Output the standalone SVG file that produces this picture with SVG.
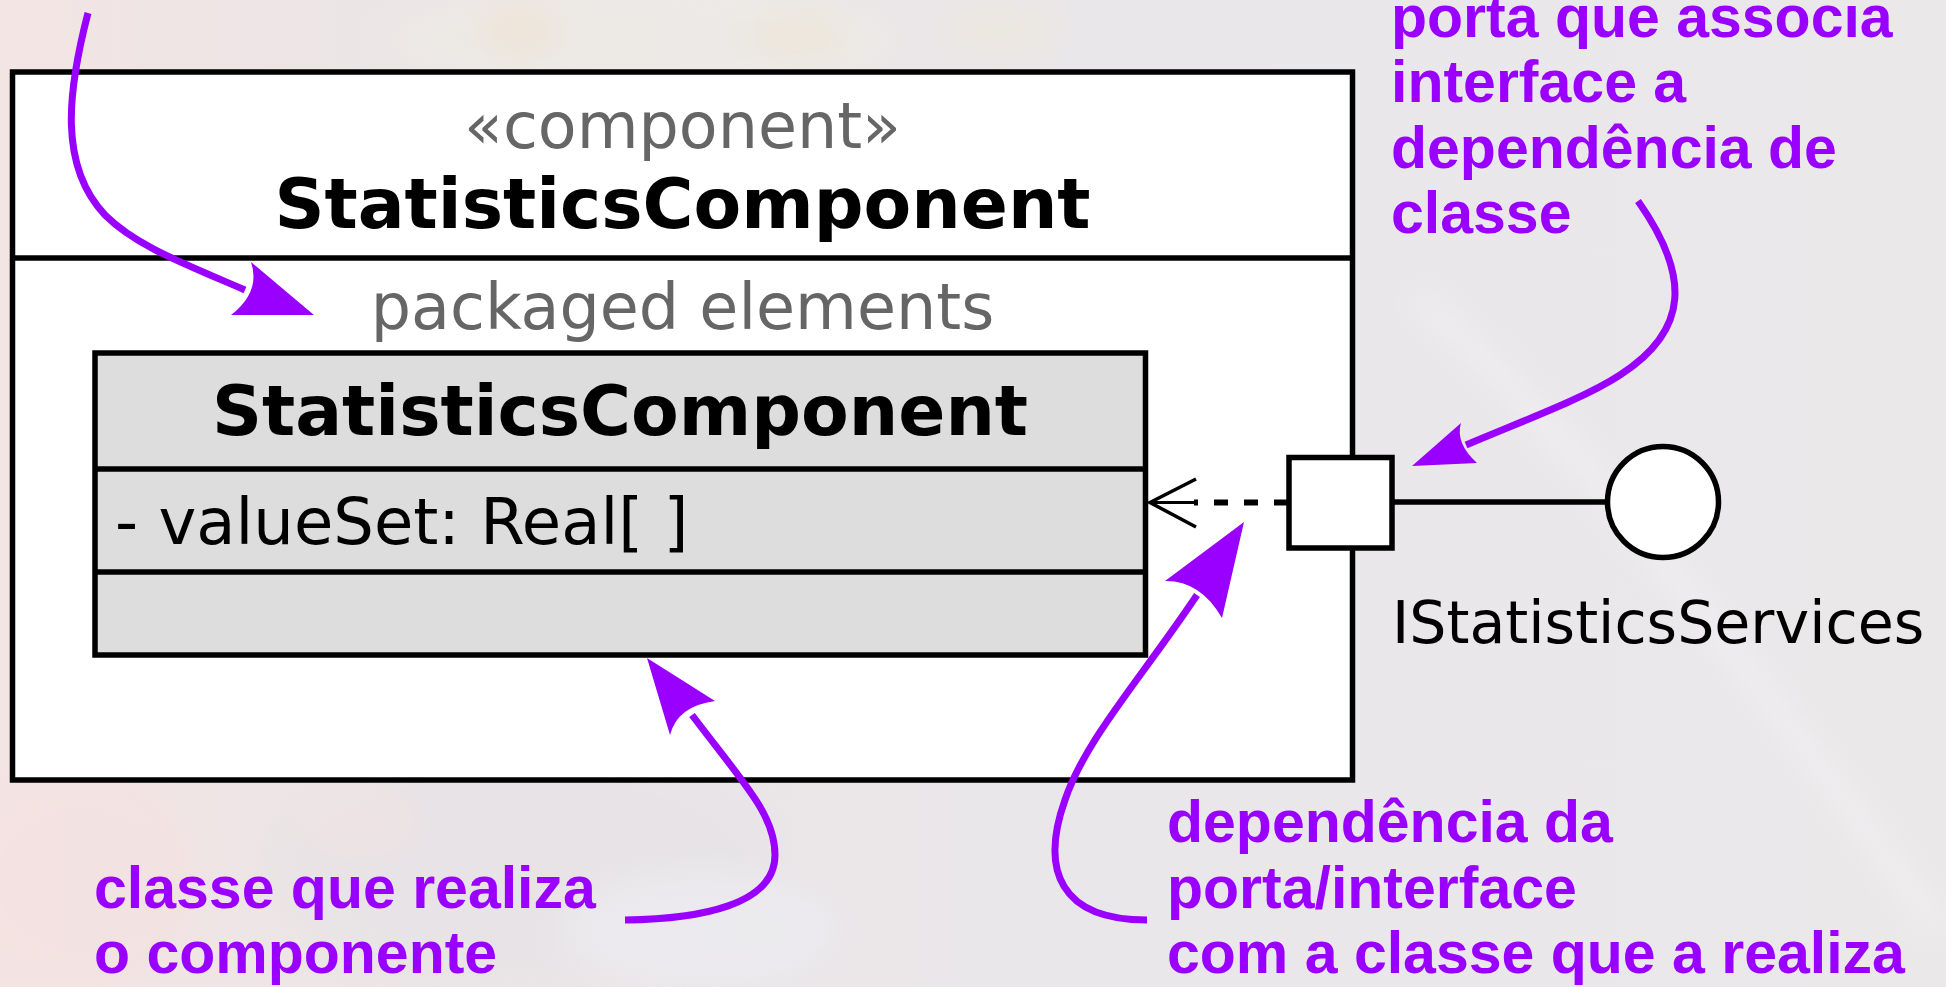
<svg xmlns="http://www.w3.org/2000/svg" width="1946" height="987" viewBox="0 0 1946 987">
  <defs>
    <linearGradient id="bg" x1="0" y1="0" x2="1" y2="0">
      <stop offset="0" stop-color="#f3e5e4"/>
      <stop offset="0.2" stop-color="#ebe5e6"/>
      <stop offset="0.6" stop-color="#e9e7ea"/>
      <stop offset="1" stop-color="#ebe8ea"/>
    </linearGradient>
    <filter id="blur" x="-20%" y="-20%" width="140%" height="140%">
      <feGaussianBlur stdDeviation="14"/>
    </filter>
    <style>
      .box { stroke: #000; stroke-width: 5.5; }
      .ln { stroke: #000; stroke-width: 5.5; fill: none; }
      .dej { font-family: "DejaVu Sans", sans-serif; }
      .grey { fill: #666666; font-size: 63.5px; }
      .bold { font-weight: bold; font-size: 69.5px; fill: #000; }
      .note { font-family: "Liberation Sans", Arial, sans-serif; font-weight: bold; font-size: 59px; fill: #9900ff; }
      .arrow { stroke: #9900ff; stroke-width: 7; fill: none; }
      .head { fill: #9900ff; }
    </style>
  </defs>

  <!-- background (blurred photo) -->
  <rect x="0" y="0" width="1946" height="987" fill="url(#bg)"/>
  <g filter="url(#blur)" opacity="0.4">
    <ellipse cx="640" cy="40" rx="260" ry="60" fill="#f1efe4"/>
    <ellipse cx="520" cy="30" rx="40" ry="30" fill="#f3e6c8"/>
    <ellipse cx="800" cy="35" rx="50" ry="30" fill="#f2e9cc"/>
    <ellipse cx="1000" cy="30" rx="60" ry="30" fill="#f0e8d6"/>
    <ellipse cx="520" cy="860" rx="260" ry="120" fill="#e4e2e6"/>
    <ellipse cx="360" cy="820" rx="60" ry="40" fill="#efe2e2"/>
    <ellipse cx="700" cy="930" rx="140" ry="60" fill="#eef0f6"/>
    <ellipse cx="80" cy="880" rx="120" ry="110" fill="#f5dfdd"/>
  </g>
  <path d="M1420,300 C1560,420 1700,600 1940,930" stroke="#f6f6f6" stroke-width="14" fill="none" opacity="0.7" filter="url(#blur)"/>

  <!-- component node -->
  <g id="statisticsComponent">
    <rect class="box" x="12.5" y="72" width="1340" height="708" fill="#ffffff"/>
    <line class="ln" x1="12.5" y1="258" x2="1352.5" y2="258"/>
    <text class="dej grey" x="682.5" y="148" text-anchor="middle">«component»</text>
    <text class="dej bold" x="682.5" y="228" text-anchor="middle">StatisticsComponent</text>
    <text class="dej grey" x="682.5" y="329" text-anchor="middle">packaged elements</text>
  </g>

  <!-- class node -->
  <g id="statisticsComponentClass">
    <rect class="box" x="95" y="353" width="1050.5" height="302" fill="#dddddd"/>
    <line class="ln" x1="95" y1="469" x2="1145.5" y2="469"/>
    <line class="ln" x1="95" y1="572" x2="1145.5" y2="572"/>
    <text class="dej bold" x="620" y="435" text-anchor="middle">StatisticsComponent</text>
    <text class="dej" x="115" y="544" font-size="64" fill="#000">- valueSet: Real[ ]</text>
  </g>

  <!-- port -->
  <g id="port">
    <rect class="box" x="1289" y="457.5" width="103" height="90.5" fill="#ffffff"/>
  </g>

  <!-- provided interface -->
  <g id="IStatisticsServices">
    <circle class="box" cx="1663" cy="502" r="55.5" fill="#ffffff"/>
    <text class="dej" x="1392" y="643" font-size="58.6" fill="#000">IStatisticsServices</text>
  </g>

  <!-- connectors -->
  <g id="connectors">
    <line class="ln" x1="1392" y1="502" x2="1608" y2="502"/>
    <line x1="1288" y1="502.5" x2="1194" y2="502.5" stroke="#000" stroke-width="6" stroke-dasharray="14 16"/>
    <line x1="1150" y1="502.5" x2="1196" y2="502.5" stroke="#000" stroke-width="3"/>
    <polyline points="1196,479 1150,502.5 1196,527" fill="none" stroke="#000" stroke-width="3.5"/>
  </g>

  <!-- annotations -->
  <g id="note-packaged">
    <path class="arrow" d="M88,13 C68,90 58,165 105,215 C135,245 180,262 245,290"/>
    <path class="head" d="M314,315 L251,262 Q261,291.5 231,315 Z"/>
  </g>

  <g id="note-port">
    <text class="note" x="1391" y="37">porta que associa</text>
    <text class="note" x="1391" y="102">interface a</text>
    <text class="note" x="1391" y="168">dependência de</text>
    <text class="note" x="1391" y="233">classe</text>
    <path class="arrow" d="M1638,201 C1690,275 1690,330 1620,375 C1585,398 1525,420 1466,445"/>
    <path class="head" d="M1412,466 L1461,423 Q1455,443 1477,463 Z"/>
  </g>

  <g id="note-class">
    <text class="note" x="94" y="907.5">classe que realiza</text>
    <text class="note" x="94" y="973">o componente</text>
    <path class="arrow" d="M625,920 C700,919 775,905 775,855 C775,815 745,785 692,715"/>
    <path class="head" d="M647,658 L715,701 Q677.5,706 670,735 Z"/>
  </g>

  <g id="note-dependency">
    <text class="note" x="1167" y="842">dependência da</text>
    <text class="note" x="1167" y="907.5">porta/interface</text>
    <text class="note" x="1167" y="973">com a classe que a realiza</text>
    <path class="arrow" d="M1147,920 C1060,920 1040,870 1065,800 C1085,740 1140,680 1197,595"/>
    <path class="head" d="M1244,522 L1165,581 Q1200.5,580.5 1222,618 Z"/>
  </g>
</svg>
